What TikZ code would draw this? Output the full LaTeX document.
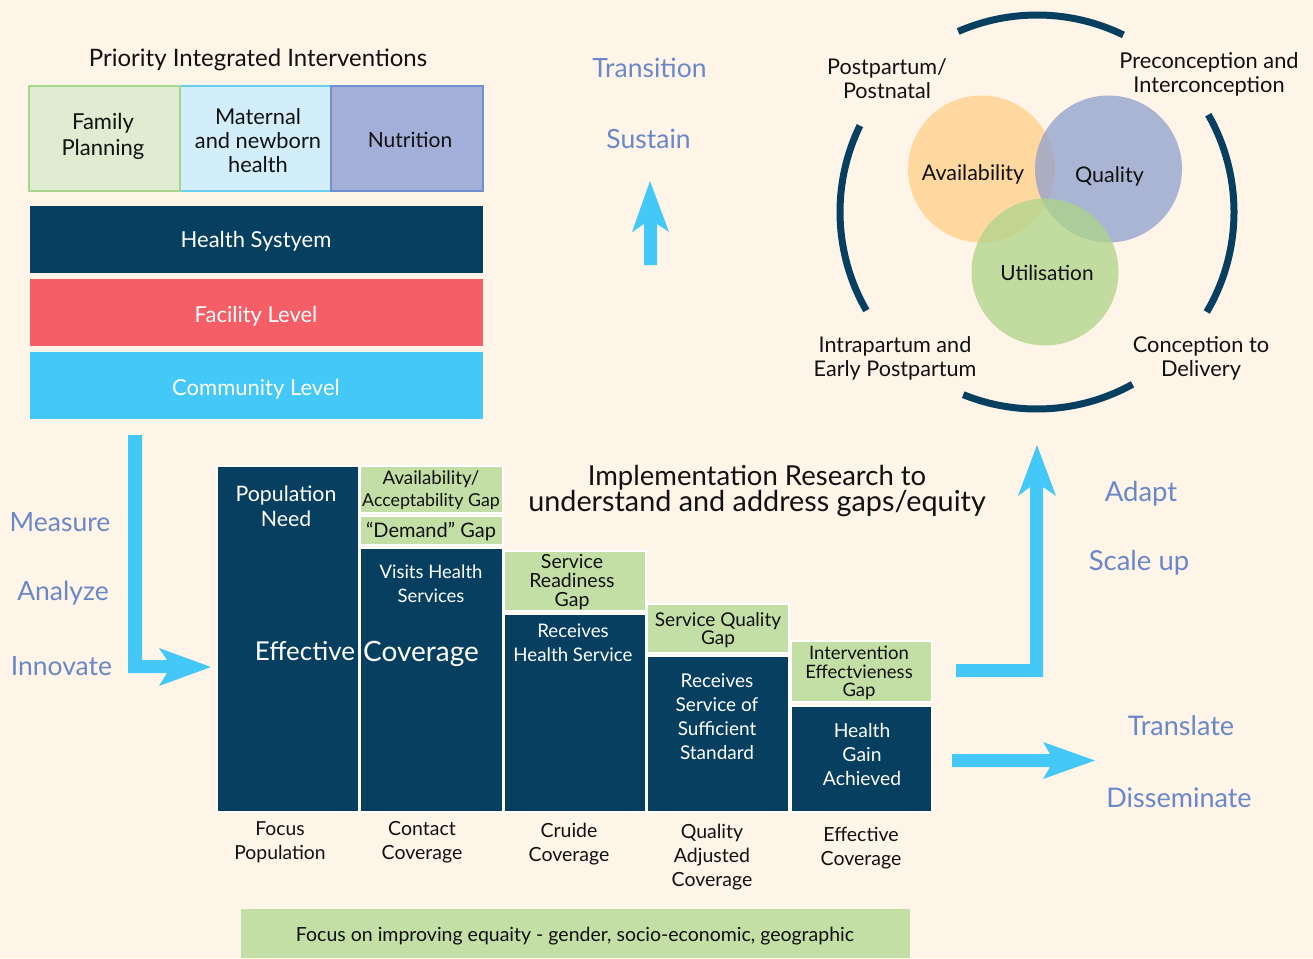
\documentclass[tikz,border=0pt]{standalone}
\usepackage{fontspec}
\setmainfont{Lato}
\definecolor{bg}{HTML}{FFF4E8}
\definecolor{navy}{HTML}{073F60}
\definecolor{redbar}{HTML}{F55E66}
\definecolor{sky}{HTML}{44C8F8}
\definecolor{gapgreen}{HTML}{C3DFA5}
\definecolor{bluetxt}{HTML}{6A88C8}
\definecolor{ink}{HTML}{111111}
\definecolor{fpfill}{HTML}{E0ECD2}
\definecolor{fpline}{HTML}{A5D68A}
\definecolor{mnfill}{HTML}{D2EEFB}
\definecolor{mnline}{HTML}{6ACFF0}
\definecolor{nufill}{HTML}{A3AFD9}
\definecolor{nuline}{HTML}{6F8FD0}
\definecolor{vorange}{HTML}{FFCF88}
\definecolor{vblue}{HTML}{8EA1CC}
\definecolor{vgreen}{HTML}{AED588}
\newcommand{\fsz}[2]{\fontsize{#1}{#2}\selectfont}
\tikzset{
  x=1pt,y=-1pt,
  txt/.style={inner sep=0pt,align=center,text=ink},
  wtxt/.style={inner sep=0pt,align=center,text=white},
  verb/.style={inner sep=0pt,text=bluetxt,font=\fsz{26.5}{32}},
  bigverb/.style={inner sep=0pt,text=bluetxt,font=\fsz{27.5}{32}},
  topbox/.style={line width=1.5pt},
  navybox/.style={fill=navy,preaction={draw=white,line width=3.4pt}},
  gapbox/.style={fill=gapgreen,preaction={draw=white,line width=3.4pt}},
  venn/.style={circle,inner sep=0pt,minimum size=147pt,fill=#1,fill opacity=0.75,draw=none},
  ringarc/.style={draw=navy,line width=7pt},
  flow/.style={fill=sky,draw=none},
}
\newcommand{\ring}[2]{\draw[ringarc] ({1037+197*cos(#1)},{212-197*sin(#1)}) arc[start angle=#1,end angle=#2,radius=197pt];}
\begin{document}
\begin{tikzpicture}
\useasboundingbox (0,0) rectangle (1313,958);
\fill[bg] (0,0) rectangle (1313,958);

% title and top boxes
\node[txt,font=\fsz{24}{28}] (title) at (258,60) {Priority Integrated Interventions};
\filldraw[topbox,fill=mnfill,draw=mnline] (180,86) rectangle (331,191);
\filldraw[topbox,fill=fpfill,draw=fpline] (29,86) rectangle (180,191);
\filldraw[topbox,fill=nufill,draw=nuline] (331,86) rectangle (483,191);
\node[txt,font=\fsz{22}{26}] (fp) at (103,136) {Family\\Planning};
\node[txt,font=\fsz{21.8}{24}] (mn) at (258,141) {Maternal\\and newborn\\health};
\node[txt,font=\fsz{21}{26}] (nu) at (410,140) {Nutrition};

% levels
\fill[navy] (30,206) rectangle (483,273);
\fill[redbar] (30,279) rectangle (483,346);
\fill[sky] (30,352) rectangle (483,419);
\node[wtxt,font=\fsz{22}{26}] (hs) at (256,241) {Health Systyem};
\node[wtxt,font=\fsz{22}{26}] (fl) at (256,316) {Facility Level};
\node[wtxt,font=\fsz{22}{26}] (cl) at (256,389) {Community Level};

% arrows
\fill[flow] (128,435) -- (142,435) -- (142,660) -- (167,660) -- (159,648) -- (211,667) -- (159,686) -- (167,673) -- (128,673) -- cycle;
\fill[flow] (644,265) -- (644,224) -- (632,232) -- (650,181) -- (669,232) -- (657,224) -- (657,265) -- cycle;
\fill[flow] (956,677) -- (956,664) -- (1030,664) -- (1030,487) -- (1018,496) -- (1037,445) -- (1056,496) -- (1043,487) -- (1043,677) -- cycle;
\fill[flow] (952,754) -- (1050,754) -- (1043,742) -- (1095,760.5) -- (1043,779) -- (1050,767) -- (952,767) -- cycle;

% verbs
\node[verb] (tr) at (649.5,67.5) {Transition};
\node[verb] (su) at (648.5,139) {Sustain};
\node[verb] (me) at (60,522.5) {Measure};
\node[verb] (an) at (63,593.5) {Analyze};
\node[verb] (in) at (61.5,666.5) {Innovate};
\node[bigverb] (ad) at (1141,493.5) {Adapt};
\node[bigverb] (sc) at (1139,562.5) {Scale up};
\node[verb,font=\fsz{27}{32}] (tl) at (1181,725.5) {Translate};
\node[verb,font=\fsz{27}{32}] (di) at (1179,797.5) {Disseminate};

% venn
\node[venn=vorange] (va) at (981.5,169) {};
\node[venn=vblue] (vq) at (1108.5,169) {};
\node[venn=vgreen] (vu) at (1045,272) {};
\node[txt,font=\fsz{21.5}{26}] (av) at (973,174) {Availability};
\node[txt,font=\fsz{21.5}{26}] (qu) at (1109.5,176) {Quality};
\node[txt,font=\fsz{20.8}{26}] (ut) at (1047,273) {Utilisation};
\ring{64}{113.6}
\ring{29.6}{-30.5}
\ring{-61}{-112}
\ring{154}{210}
\node[txt,font=\fsz{21.6}{24}] (pp) at (887,79) {Postpartum/\\Postnatal};
\node[txt,font=\fsz{21.8}{24}] (pi) at (1209,74) {Preconception and\\Interconception};
\node[txt,font=\fsz{21.6}{24}] (ip) at (895,358) {Intrapartum and\\Early Postpartum};
\node[txt,font=\fsz{21.8}{24}] (cd) at (1201,358) {Conception to\\Delivery};

% staircase
\path[navybox] (218,467) rectangle (358,811);
\path[gapbox] (361,467) rectangle (502,512);
\path[gapbox] (361,517) rectangle (502,544);
\path[navybox] (361,549) rectangle (502,811);
\path[gapbox] (505,552) rectangle (645,610);
\path[navybox] (505,615) rectangle (645,811);
\path[gapbox] (648,605) rectangle (788,652);
\path[navybox] (648,657) rectangle (788,811);
\path[gapbox] (792,642) rectangle (931,701);
\path[navybox] (792,707) rectangle (931,811);

\node[wtxt,font=\fsz{21.3}{25}] (pn) at (286,506.5) {Population\\Need};
\node[wtxt,font=\fsz{26}{32}] (ef) at (305,651.5) {Effective};
\node[wtxt,font=\fsz{28}{32}] (co) at (421,654) {Coverage};
\node[txt,font=\fsz{18.7}{22}] (ga) at (431,490.5) {Availability/\\\fsz{17.8}{22}Acceptability Gap};
\node[txt,font=\fsz{20}{22}] (gd) at (431,532) {“Demand” Gap};
\node[wtxt,font=\fsz{18.5}{24}] (vh) at (431,584) {Visits Health\\Services};
\node[txt,font=\fsz{19.5}{19}] (gs) at (572,582) {Service\\Readiness\\Gap};
\node[wtxt,font=\fsz{18.7}{24}] (rh) at (573,643) {Receives\\Health Service};
\node[txt,font=\fsz{19}{18.5}] (gq) at (718,630) {Service Quality\\Gap};
\node[wtxt,font=\fsz{19}{24}] (rs) at (717,717) {Receives\\Service of\\Sufficient\\Standard};
\node[txt,font=\fsz{18.5}{18.5}] (gi) at (859,673) {Intervention\\Effectvieness\\Gap};
\node[wtxt,font=\fsz{19.3}{24}] (hg) at (862,754) {Health\\Gain\\Achieved};

% captions
\node[txt,font=\fsz{19.3}{24}] (c1) at (280,842) {Focus\\Population};
\node[txt,font=\fsz{19.5}{24}] (c2) at (422,842) {Contact\\Coverage};
\node[txt,font=\fsz{19.5}{24}] (c3) at (569,844) {Cruide\\Coverage};
\node[txt,font=\fsz{19.5}{24}] (c4) at (712,857) {Quality\\Adjusted\\Coverage};
\node[txt,font=\fsz{19.5}{24}] (c5) at (861,848) {Effective\\Coverage};

\node[txt,font=\fsz{27.5}{25}] (ir) at (757,491) {Implementation Research to\\\fsz{28.8}{25}understand and address gaps/equity};

\fill[gapgreen] (241,909) rectangle (910,958);
\node[txt,font=\fsz{19.5}{23}] (eq) at (575,936) {Focus on improving equaity - gender, socio-economic, geographic};
\end{tikzpicture}
\end{document}
